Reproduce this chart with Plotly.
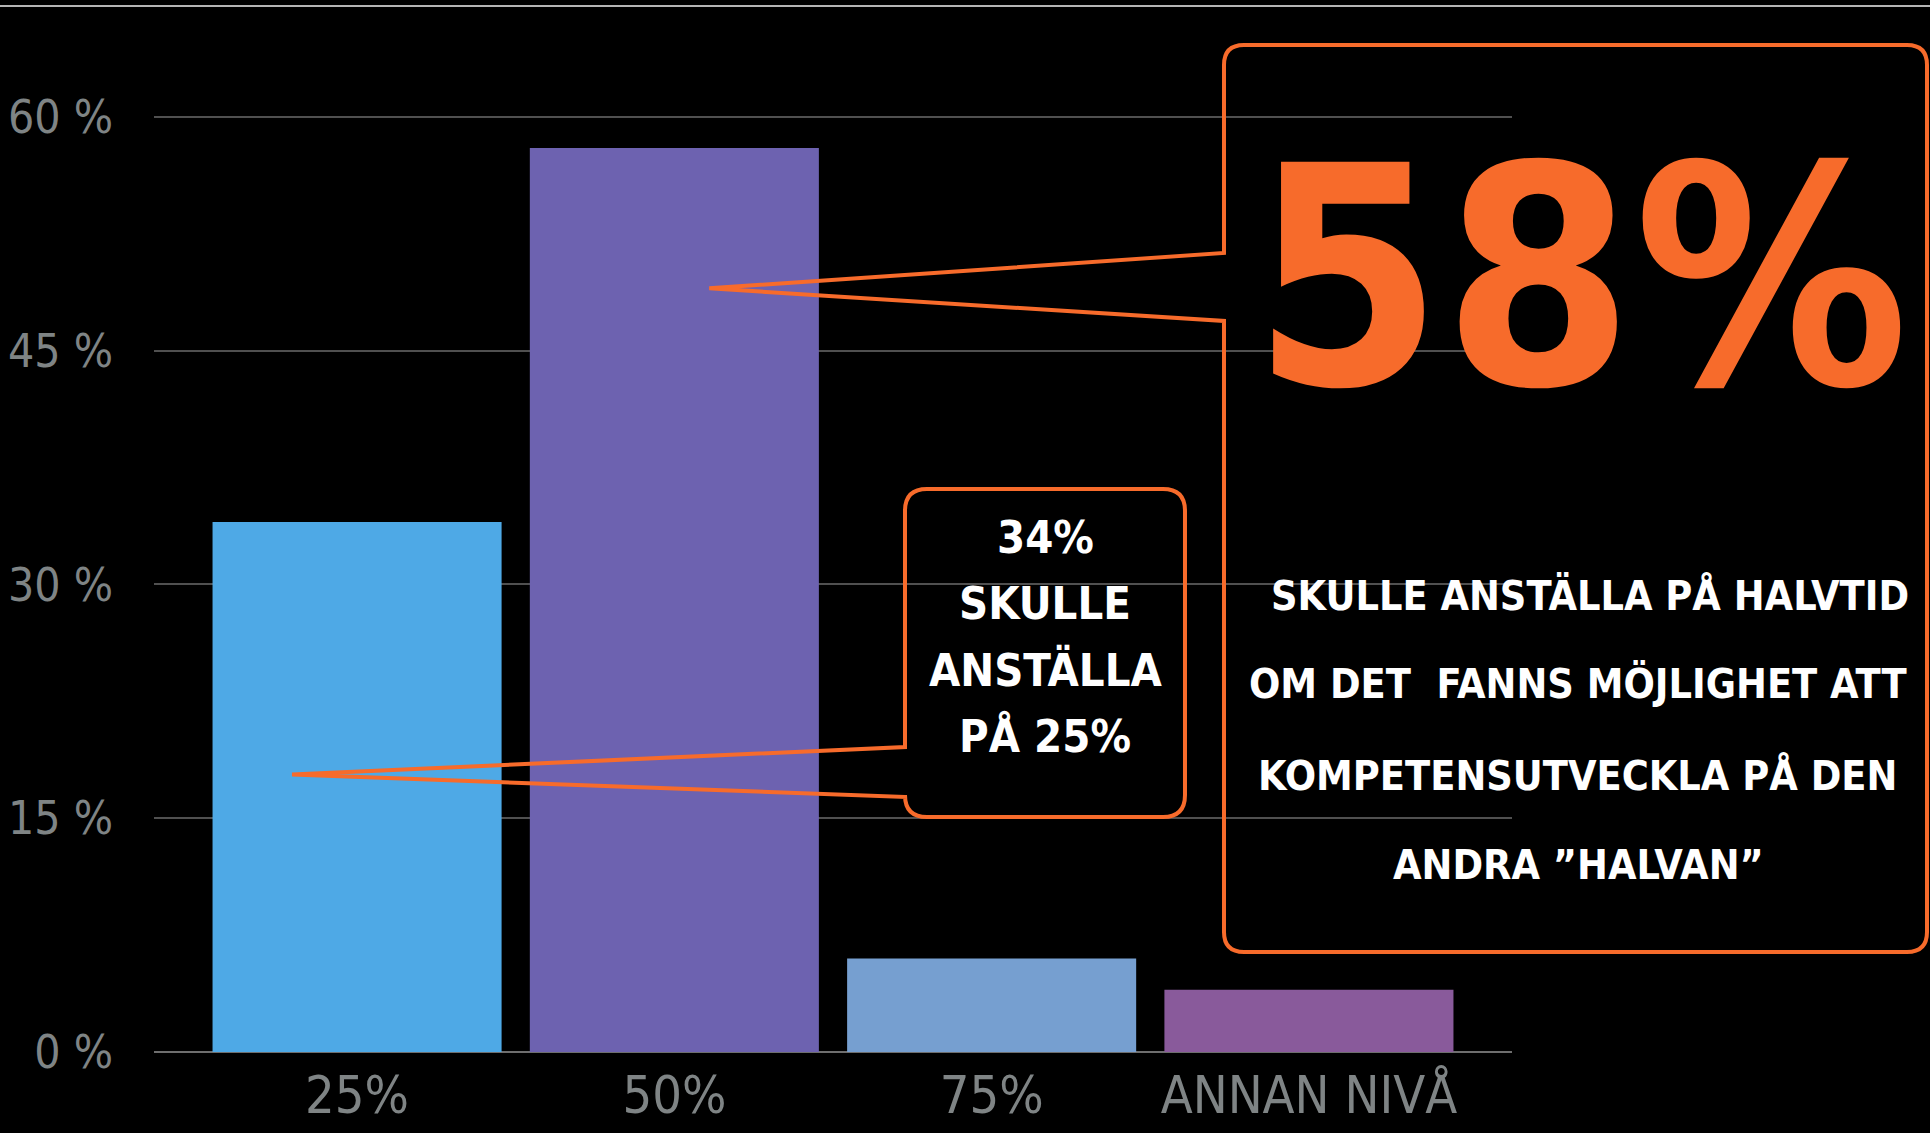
import plotly.graph_objects as go

# ---------------- data ----------------
categories = ["25%", "50%", "75%", "ANNAN NIVÅ"]
values = [34, 58, 6, 4]
bar_colors = ["#4EA9E6", "#6D62B0", "#769FD0", "#895A9B"]
y_tick_vals = [0, 15, 30, 45, 60]
y_tick_text = ["0 %", "15 %", "30 %", "45 %", "60 %"]

small_lines = ["34%", "SKULLE", "ANSTÄLLA", "PÅ 25%"]
big_number = "58%"
big_lines = ["SKULLE ANSTÄLLA PÅ HALVTID",
             "OM DET\u00a0 FANNS MÖJLIGHET ATT",
             "KOMPETENSUTVECKLA PÅ DEN",
             "ANDRA \u201dHALVAN\u201d"]

# ---------------- layout geometry ----------------
W, H = 1930, 1133
ML, MR, MT, MB = 154, 418, 39, 81
PW, PH = W - ML - MR, H - MT - MB
XR = [-0.64, 3.64]
YR = [0, 65]

ORANGE = "#F76B2B"
FONT = "DejaVu Sans Condensed, Liberation Sans Narrow, Arial Narrow, sans-serif"


def px(x):
    return (x - ML) / PW


def py(y):
    return (H - MB - y) / PH


def dx(v):
    return (v - XR[0]) / (XR[1] - XR[0])


def dy(v):
    return (v - YR[0]) / (YR[1] - YR[0])


def callout_path(L, T, R, B, r, tip, e_top, e_bot):
    """rounded box with pointer on left edge; box in pixels, tip in paper."""
    P = lambda x, y: f"{px(x):.5f},{py(y):.5f}"
    parts = [
        f"M {P(L, T + r)}",
        f"Q {P(L, T)} {P(L + r, T)}",
        f"L {P(R - r, T)}",
        f"Q {P(R, T)} {P(R, T + r)}",
        f"L {P(R, B - r)}",
        f"Q {P(R, B)} {P(R - r, B)}",
        f"L {P(L + r, B)}",
        f"Q {P(L, B)} {P(L, B - r)}",
        f"L {P(L, e_bot)}",
        f"L {tip[0]:.5f},{tip[1]:.5f}",
        f"L {P(L, e_top)}",
        "Z",
    ]
    return " ".join(parts)


fig = go.Figure()
fig.add_trace(go.Bar(
    x=categories, y=values,
    marker=dict(color=bar_colors, line=dict(width=0)),
    hoverinfo="skip", showlegend=False,
))

# pointer tips anchored to the bars (data coords -> paper)
tip_small = (dx(0 - 0.205), dy(17.8))
tip_big = (dx(1 + 0.11), dy(49.0))

shapes = [
    # top rule
    dict(type="line", xref="paper", yref="paper",
         x0=px(0), x1=px(W), y0=py(6), y1=py(6),
         line=dict(color="#b4b4b4", width=2)),
    dict(type="path", xref="paper", yref="paper",
         path=callout_path(905, 489, 1185, 817, 22, tip_small, 747, 797),
         line=dict(color=ORANGE, width=4), fillcolor="rgba(0,0,0,0)"),
    dict(type="path", xref="paper", yref="paper",
         path=callout_path(1224, 45, 1927, 952, 20, tip_big, 253, 321),
         line=dict(color=ORANGE, width=4), fillcolor="rgba(0,0,0,0)"),
]

annotations = []
for txt, yc in zip(small_lines, [537, 604, 670, 736]):
    annotations.append(dict(
        text=txt, x=px(1045), y=py(yc), xref="paper", yref="paper",
        xanchor="center", yanchor="middle", showarrow=False,
        font=dict(family=FONT, size=45, color="white", weight="bold")))

annotations.append(dict(
    text=big_number, x=px(1580), y=py(278), xref="paper", yref="paper",
    xanchor="center", yanchor="middle", showarrow=False,
    font=dict(family=FONT, size=305, color=ORANGE, weight="bold")))

for txt, xc, yc in zip(big_lines, [1590, 1578, 1577, 1578], [595, 684, 775, 865]):
    annotations.append(dict(
        text=txt, x=px(xc), y=py(yc), xref="paper", yref="paper",
        xanchor="center", yanchor="middle", showarrow=False,
        font=dict(family=FONT, size=41, color="white", weight="bold")))

fig.update_layout(
    width=W, height=H,
    margin=dict(l=ML, r=MR, t=MT, b=MB, autoexpand=False),
    paper_bgcolor="#000000", plot_bgcolor="#000000",
    bargap=0.089,
    shapes=shapes, annotations=annotations,
    xaxis=dict(
        range=XR, showgrid=False, zeroline=False, showline=False,
        ticks="", ticklabelstandoff=8,
        tickfont=dict(family=FONT, size=52, color="#7F8485"),
    ),
    yaxis=dict(
        range=YR, tickvals=y_tick_vals, ticktext=y_tick_text,
        showgrid=True, gridcolor="#505050", gridwidth=1.5,
        zeroline=True, zerolinecolor="#6e6e6e", zerolinewidth=2,
        showline=False, ticks="", ticklabelstandoff=40,
        tickfont=dict(family=FONT, size=46, color="#7F8485"),
    ),
)

fig.write_html("out.html")
